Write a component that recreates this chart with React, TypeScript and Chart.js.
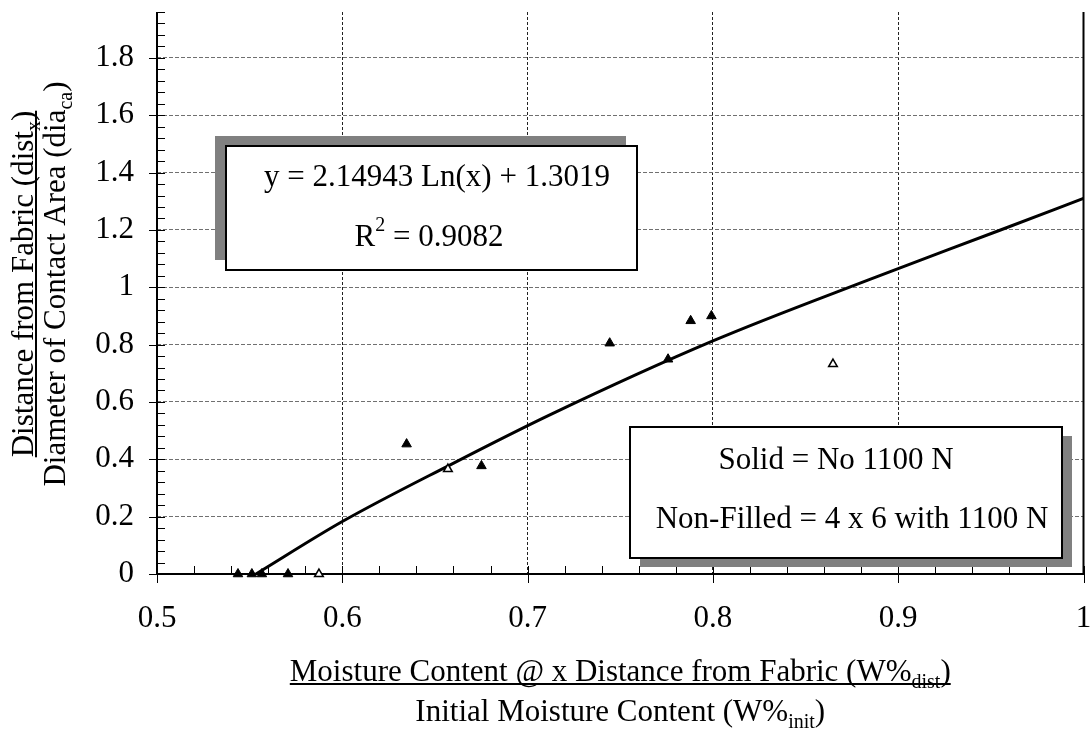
import { useEffect, useRef } from 'react';
import { Chart, registerables } from 'chart.js';

Chart.register(...registerables);

const FONT = "'Liberation Serif', 'Times New Roman', Times, serif";
const FS = 31;

// Axis ranges and tick labels
const xTickValues = [0.5, 0.6, 0.7, 0.8, 0.9, 1];
const yTickValues = [0, 0.2, 0.4, 0.6, 0.8, 1, 1.2, 1.4, 1.6, 1.8];
const X_MIN = 0.5;
const X_MAX = 1;
const Y_MIN = 0;
const Y_MAX = 1.96;
const X_MINOR = 0.02;
const Y_MINOR = 0.04;

// Solid triangles: No 1100 N
const solidX = [0.5437, 0.5512, 0.5566, 0.5707, 0.6347, 0.6751, 0.7443, 0.7758, 0.788, 0.7992];
const solidY = [0, 0, 0, 0, 0.453, 0.377, 0.805, 0.749, 0.883, 0.9];

// Non-filled triangles: 4 x 6 with 1100 N
const openX = [0.5874, 0.657, 0.8648];
const openY = [0, 0.366, 0.732];

// Logarithmic trend line as drawn
const trendX = [0.5534, 0.6, 0.658, 0.712, 0.8, 0.884, 0.9545, 1.0];
const trendY = [0, 0.183, 0.38, 0.555, 0.813, 1.026, 1.198, 1.31];

const eqLine1 = 'y = 2.14943 Ln(x) + 1.3019';
const eqLine2 = ['R', '2', ' = 0.9082'];
const legendLine1 = 'Solid = No 1100 N';
const legendLine2 = 'Non-Filled = 4 x 6 with 1100 N';

type Run = { t: string; s?: 'sub' | 'sup' };

function font(size: number) {
  return `${size}px ${FONT}`;
}

function drawRich(
  ctx: CanvasRenderingContext2D,
  runs: Run[],
  cx: number,
  baseline: number,
  size: number,
  underline = false
) {
  const small = Math.round(size * 0.64);
  let w = 0;
  const widths: number[] = [];
  for (const r of runs) {
    ctx.font = font(r.s ? small : size);
    const m = ctx.measureText(r.t).width;
    widths.push(m);
    w += m;
  }
  let x = cx - w / 2;
  ctx.textAlign = 'left';
  ctx.textBaseline = 'alphabetic';
  runs.forEach((r, i) => {
    ctx.font = font(r.s ? small : size);
    const dy = r.s === 'sub' ? size * 0.24 : r.s === 'sup' ? -size * 0.5 : 0;
    ctx.fillText(r.t, x, baseline + dy);
    x += widths[i];
  });
  if (underline) {
    ctx.fillRect(cx - w / 2, baseline + 2, w, 2);
  }
}

function drawBox(
  ctx: CanvasRenderingContext2D,
  x: number,
  y: number,
  w: number,
  h: number,
  dx: number,
  dy: number
) {
  ctx.fillStyle = '#808080';
  ctx.fillRect(x + dx, y + dy, w, h);
  ctx.fillStyle = '#ffffff';
  ctx.fillRect(x, y, w, h);
  ctx.strokeStyle = '#000';
  ctx.lineWidth = 2;
  ctx.strokeRect(x, y, w, h);
}

const decorPlugin = {
  id: 'decor',
  beforeDatasetsDraw(chart: any) {
    const { ctx, chartArea: a, scales } = chart;
    const xs = scales.x;
    const ys = scales.y;
    ctx.save();
    ctx.strokeStyle = '#000';
    ctx.lineWidth = 1;
    ctx.beginPath();
    const ny = Math.round((Y_MAX - Y_MIN) / Y_MINOR);
    for (let i = 0; i <= ny; i++) {
      const py = Math.round(ys.getPixelForValue(Y_MIN + i * Y_MINOR)) + 0.5;
      ctx.moveTo(a.left, py);
      ctx.lineTo(a.left + 8, py);
    }
    for (const v of yTickValues) {
      const py = Math.round(ys.getPixelForValue(v)) + 0.5;
      ctx.moveTo(a.left - 8, py);
      ctx.lineTo(a.left, py);
    }
    const nx = Math.round((X_MAX - X_MIN) / X_MINOR);
    for (let i = 0; i <= nx; i++) {
      const px = Math.round(xs.getPixelForValue(X_MIN + i * X_MINOR)) + 0.5;
      ctx.moveTo(px, a.bottom);
      ctx.lineTo(px, a.bottom - 8);
    }
    for (const v of xTickValues) {
      const px = Math.round(xs.getPixelForValue(v)) + 0.5;
      ctx.moveTo(px, a.bottom);
      ctx.lineTo(px, a.bottom + 9);
    }
    ctx.stroke();

    ctx.lineWidth = 2;
    ctx.beginPath();
    ctx.moveTo(a.left, a.top);
    ctx.lineTo(a.left, a.bottom + 1);
    ctx.moveTo(a.left - 1, a.bottom);
    ctx.lineTo(a.right + 1, a.bottom);
    ctx.moveTo(a.right, a.top);
    ctx.lineTo(a.right, a.bottom);
    ctx.stroke();
    ctx.restore();
  },
  afterDatasetsDraw(chart: any) {
    const { ctx, chartArea: a } = chart;
    ctx.save();
    // equation box
    drawBox(ctx, a.left + 69, a.top + 134, 411, 124, -11, -10);
    // legend box
    drawBox(ctx, a.left + 473, a.top + 415, 432, 131, 10, 9);
    ctx.fillStyle = '#000';
    drawRich(ctx, [{ t: eqLine1 }], a.left + 280, a.top + 174, FS);
    drawRich(
      ctx,
      [{ t: eqLine2[0] }, { t: eqLine2[1], s: 'sup' }, { t: eqLine2[2] }],
      a.left + 272,
      a.top + 234,
      FS
    );
    drawRich(ctx, [{ t: legendLine1 }], a.left + 679, a.top + 457, FS);
    drawRich(ctx, [{ t: legendLine2 }], a.left + 695, a.top + 516, FS);

    // x-axis title
    const cx = (a.left + a.right) / 2;
    drawRich(
      ctx,
      [{ t: 'Moisture Content @ x Distance from Fabric (W%' }, { t: 'dist', s: 'sub' }, { t: ')' }],
      cx,
      a.bottom + 107,
      FS,
      true
    );
    drawRich(
      ctx,
      [{ t: 'Initial Moisture Content (W%' }, { t: 'init', s: 'sub' }, { t: ')' }],
      cx,
      a.bottom + 147,
      FS
    );

    // y-axis title (rotated)
    const cy = (a.top + a.bottom) / 2 - 9;
    ctx.save();
    ctx.translate(33, cy);
    ctx.rotate(-Math.PI / 2);
    drawRich(
      ctx,
      [{ t: 'Distance from Fabric (dist' }, { t: 'x', s: 'sub' }, { t: ')' }],
      0,
      0,
      FS,
      true
    );
    ctx.restore();
    ctx.save();
    ctx.translate(65, cy);
    ctx.rotate(-Math.PI / 2);
    drawRich(
      ctx,
      [{ t: 'Diameter of Contact Area (dia' }, { t: 'ca', s: 'sub' }, { t: ')' }],
      0,
      0,
      FS
    );
    ctx.restore();
    ctx.restore();
  },
};

const fmt = (v: number) => String(Math.round(v * 10) / 10);

export default function App() {
  const ref = useRef<HTMLCanvasElement | null>(null);

  useEffect(() => {
    if (!ref.current) return;
    const chart = new Chart(ref.current, {
      type: 'scatter',
      data: {
        datasets: [
          {
            label: 'Solid = No 1100 N',
            data: solidX.map((x, i) => ({ x, y: solidY[i] })),
            pointStyle: 'triangle',
            pointRadius: 5.5,
            pointHoverRadius: 5.5,
            backgroundColor: '#000',
            borderColor: '#000',
            borderWidth: 1,
            clip: false,
          },
          {
            label: 'Non-Filled = 4 x 6 with 1100 N',
            data: openX.map((x, i) => ({ x, y: openY[i] })),
            pointStyle: 'triangle',
            pointRadius: 5,
            pointHoverRadius: 5,
            backgroundColor: '#fff',
            borderColor: '#000',
            borderWidth: 1.5,
            clip: false,
          },
          {
            label: 'Trend',
            data: trendX.map((x, i) => ({ x, y: trendY[i] })),
            showLine: true,
            pointRadius: 0,
            borderColor: '#000',
            borderWidth: 3,
            cubicInterpolationMode: 'monotone',
            fill: false,
          } as any,
        ],
      },
      options: {
        responsive: false,
        animation: false,
        events: [],
        layout: { padding: { left: 0, right: 6, top: 12, bottom: 0 } },
        plugins: {
          legend: { display: false },
          tooltip: { enabled: false },
          title: { display: false },
        },
        scales: {
          x: {
            type: 'linear',
            min: X_MIN,
            max: X_MAX,
            afterBuildTicks: (s: any) => {
              s.ticks = xTickValues.map((v) => ({ value: v }));
            },
            afterFit: (s: any) => {
              s.height = 156;
              s.paddingLeft = 0;
              s.paddingRight = 0;
            },
            ticks: {
              color: '#000',
              font: { family: FONT, size: FS },
              padding: 26,
              maxRotation: 0,
              autoSkip: false,
              callback: (v: any) => fmt(Number(v)),
            },
            grid: {
              drawTicks: false,
              lineWidth: 1,
              color: (c: any) =>
                c.tick && (c.tick.value === X_MIN || c.tick.value === X_MAX) ? 'rgba(0,0,0,0)' : '#222',
            },
            border: { display: false, dash: [3, 2] },
          },
          y: {
            type: 'linear',
            min: Y_MIN,
            max: Y_MAX,
            afterBuildTicks: (s: any) => {
              s.ticks = yTickValues.map((v) => ({ value: v }));
            },
            afterFit: (s: any) => {
              s.width = 157;
              s.paddingTop = 0;
              s.paddingBottom = 0;
            },
            ticks: {
              color: '#000',
              font: { family: FONT, size: FS },
              padding: 23,
              autoSkip: false,
              callback: (v: any) => fmt(Number(v)),
            },
            grid: {
              drawTicks: false,
              lineWidth: 1,
              color: (c: any) => (c.tick && c.tick.value === Y_MIN ? 'rgba(0,0,0,0)' : '#707070'),
            },
            border: { display: false, dash: [4, 2] },
          },
        },
      },
      plugins: [decorPlugin],
    });
    return () => chart.destroy();
  }, []);

  return (
    <div style={{ position: 'fixed', left: 0, top: 0, width: 1090, height: 730, background: '#fff' }}>
      <canvas ref={ref} width={1090} height={730} style={{ width: 1090, height: 730, display: 'block' }} />
    </div>
  );
}
